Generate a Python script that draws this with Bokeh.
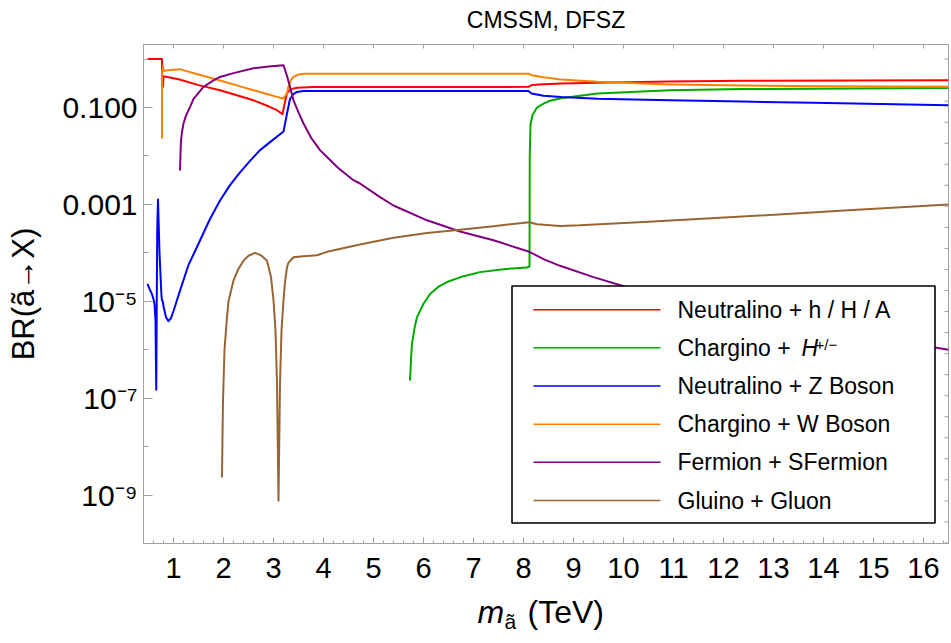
import math
from bokeh.plotting import figure
from bokeh.layouts import column
from bokeh.models import (FixedTicker, Label, BoxAnnotation, CustomJSTickFormatter, Range1d)
from bokeh.embed import file_html
from bokeh.resources import INLINE

# ---------------- data ----------------
red_x = [0.48, 0.77, 0.772, 0.785, 0.79, 0.80, 0.85, 1.12, 1.5, 1.93, 2.3, 2.6, 2.9, 3.07,
         3.18, 3.23, 3.27, 3.35, 3.47, 3.8, 8.1, 8.16, 8.3, 8.75, 9.48, 10.93, 12.38, 16.5]
red_y = [1.0, 1.0, 0.43, 0.43, 0.27, 0.44, 0.43, 0.38, 0.29, 0.227, 0.175, 0.141, 0.106, 0.088,
         0.073, 0.13, 0.2, 0.24, 0.255, 0.265, 0.267, 0.29, 0.30, 0.315, 0.325, 0.345, 0.355, 0.366]

orange_x = [0.77, 0.771, 0.785, 0.79, 0.80, 0.85, 1.12, 1.5, 1.93, 2.3, 2.6, 2.9, 3.07, 3.19,
            3.23, 3.27, 3.3, 3.35, 3.4, 3.5, 3.6, 3.8, 8.1, 8.16, 8.4, 8.75, 9.48, 10.93,
            12.38, 14.0, 16.5]
orange_y = [0.023, 0.57, 0.57, 0.71, 0.57, 0.58, 0.62, 0.48, 0.36, 0.28, 0.228, 0.186, 0.166,
            0.153, 0.17, 0.2, 0.27, 0.37, 0.43, 0.48, 0.50, 0.50, 0.50, 0.466, 0.42, 0.38,
            0.34, 0.30, 0.285, 0.275, 0.267]

blue_x = [0.48, 0.52, 0.57, 0.60, 0.62, 0.64, 0.655, 0.665, 0.675, 0.69, 0.72, 0.76, 0.77,
          0.785, 0.80, 0.85, 0.90, 0.95, 1.0, 1.13, 1.3, 1.53, 1.73, 1.93, 2.13, 2.33, 2.53,
          2.73, 2.95, 3.2, 3.27, 3.33, 3.4, 3.47, 3.6, 8.1, 8.16, 8.4, 8.75, 9.48, 10.93,
          12.38, 13.8, 16.5]
blue_y = [2.3e-5, 1.8e-5, 1.4e-5, 1.1e-5, 8.9e-6, 4e-6, 1.5e-7, 1e-5, 3.2e-4, 1.26e-3, 1e-4,
          1.26e-5, 1.05e-5, 1e-5, 7.9e-6, 4.7e-6, 3.9e-6, 4.5e-6, 6.3e-6, 1.66e-5, 5.6e-5,
          1.8e-4, 5e-4, 1.2e-3, 2.5e-3, 4.6e-3, 7.9e-3, 1.32e-2, 2.0e-2, 3.2e-2, 0.075, 0.15,
          0.19, 0.21, 0.22, 0.22, 0.195, 0.175, 0.165, 0.152, 0.142, 0.133, 0.125, 0.112]

green_x = [5.73, 5.75, 5.77, 5.82, 5.87, 6.0, 6.13, 6.3, 6.47, 6.8, 7.13, 7.6, 8.07, 8.12,
           8.125, 8.14, 8.18, 8.27, 8.4, 8.53, 8.75, 9.48, 10.93, 12.38, 16.5]
green_y = [2.3e-7, 6.3e-7, 1.32e-6, 2.8e-6, 4.7e-6, 8.9e-6, 1.41e-5, 2.0e-5, 2.5e-5, 3.3e-5,
           4.0e-5, 4.6e-5, 5.0e-5, 5.2e-5, 1e-2, 4.5e-2, 7.0e-2, 0.1, 0.12, 0.138, 0.155,
           0.195, 0.228, 0.24, 0.254]

purple_x = [1.13, 1.14, 1.15, 1.17, 1.2, 1.25, 1.33, 1.4, 1.6, 1.8, 1.93, 2.2, 2.6, 2.9, 3.2,
            3.27, 3.33, 3.4, 3.5, 3.6, 3.75, 3.93, 4.07, 4.3, 4.6, 4.73, 5.13, 5.4, 6.07, 6.73,
            7.4, 8.13, 8.4, 8.73, 9.4, 10.07, 11.0, 12.0, 13.0, 14.0, 15.0, 16.2, 16.5]
purple_y = [5.0e-3, 1.12e-2, 2.1e-2, 3.16e-2, 4.7e-2, 6.8e-2, 0.102, 0.151, 0.267, 0.363, 0.427,
            0.513, 0.646, 0.70, 0.748, 0.447, 0.267, 0.141, 0.0794, 0.0468, 0.024, 0.0132,
            9.5e-3, 5.6e-3, 3.16e-3, 2.7e-3, 1.41e-3, 9.5e-4, 4.7e-4, 2.75e-4, 1.82e-4, 1.04e-4,
            7.4e-5, 5.4e-5, 3.16e-5, 1.95e-5, 1.07e-5, 6.0e-6, 3.7e-6, 2.4e-6, 1.62e-6, 1.12e-6,
            1.0e-6]

brown_x = [1.97, 1.98, 1.99, 2.02, 2.07, 2.1, 2.2, 2.3, 2.4, 2.5, 2.63, 2.75, 2.87, 2.95, 3.0,
           3.04, 3.07, 3.1, 3.13, 3.16, 3.2, 3.23, 3.27, 3.3, 3.4, 3.6, 3.87, 4.07, 4.73, 5.4,
           6.07, 6.73, 7.4, 8.12, 8.27, 8.73, 9.13, 10.5, 12.73, 14.5, 16.5]
brown_y = [2.3e-9, 1.6e-8, 8.9e-8, 1e-6, 4.7e-6, 1e-5, 2.7e-5, 4.7e-5, 6.9e-5, 8.7e-5, 1.0e-4,
           8.9e-5, 6.9e-5, 3.16e-5, 1.05e-5, 2.5e-6, 2.0e-7, 7.6e-10, 2.0e-7, 2.5e-6, 1.05e-5,
           2.5e-5, 5.0e-5, 6.3e-5, 8.1e-5, 8.5e-5, 8.9e-5, 1.05e-4, 1.48e-4, 2.04e-4, 2.57e-4,
           3.0e-4, 3.55e-4, 4.3e-4, 3.9e-4, 3.6e-4, 3.7e-4, 4.4e-4, 5.9e-4, 7.6e-4, 1.0e-3]

series_names = ["Neutralino + h / H / A", "Chargino + H+/\u2212", "Neutralino + Z Boson",
                "Chargino + W Boson", "Fermion + SFermion", "Gluino + Gluon"]
series_colors = ["#FF0000", "#00AA00", "#0000FF", "#FF8000", "#800080", "#996633"]

x_ticks = list(range(1, 17))
y_tick_vals = [1e-9, 1e-7, 1e-5, 1e-3, 1e-1]
y_tick_labels = ["10\u207b\u2079", "10\u207b\u2077", "10\u207b\u2075", "0.001", "0.100"]

title_text = "CMSSM, DFSZ"
y_label = "BR(\u00e3\u2192X)"

# ---------------- layout constants ----------------
X0, X1 = 0.4, 16.5
Y0, Y1 = 1e-10, 2.0
FONT = "Liberation Sans"
GRAY = "#a0a0a0"

TOP_H = 36          # strip holding the title
BOT_H = 51          # strip holding the x-axis title
MAIN_H = 643 - TOP_H - BOT_H
FL, FR, FT, FB = 143, 948, 44, 543   # frame edges in page px


def sx(px):
    return X0 + (px - FL) * (X1 - X0) / (FR - FL)


def sy(py):
    l0, l1 = math.log10(Y0), math.log10(Y1)
    return 10 ** (l1 - (py - FT) * (l1 - l0) / (FB - FT))


def strip(h):
    # the column aligns this strip's frame with the main frame horizontally
    f = figure(width=951, height=h, x_range=Range1d(X0, X1), y_range=Range1d(h, 0),
               output_backend="svg", toolbar_location=None, min_border=0, title=None,
               x_axis_location=None, y_axis_location=None)
    f.outline_line_color = None
    f.xgrid.visible = False
    f.ygrid.visible = False
    return f


# ---------------- title strip ----------------
t = strip(TOP_H)
t.add_layout(Label(x=(X0 + X1) / 2, y=19, text=title_text, text_font=FONT,
                   text_font_size="23px", text_align="center", text_baseline="middle",
                   text_color="black"))

# ---------------- main plot ----------------
p = figure(width=951, height=MAIN_H, x_range=Range1d(X0, X1), y_range=Range1d(Y0, Y1),
           y_axis_type="log", output_backend="svg", toolbar_location=None, title=None,
           min_border_left=FL, min_border_right=951 - FR, min_border_top=FT - TOP_H,
           min_border_bottom=TOP_H + MAIN_H - FB)
p.xgrid.visible = False
p.ygrid.visible = False
p.outline_line_color = GRAY
p.outline_line_width = 1
p.background_fill_color = "white"
p.border_fill_color = "white"

# bottom axis
xa = p.xaxis[0]
xa.ticker = FixedTicker(ticks=x_ticks, minor_ticks=[round(0.4 + 0.2 * i, 2) for i in range(81)])
xa.axis_line_color = None
xa.major_tick_line_color = GRAY
xa.minor_tick_line_color = GRAY
xa.major_tick_in = 6
xa.major_tick_out = 0
xa.minor_tick_in = 3
xa.minor_tick_out = 0
xa.major_label_text_font = FONT
xa.major_label_text_font_size = "29px"
xa.major_label_text_color = "black"
xa.major_label_standoff = 14

# left axis
ya = p.yaxis[0]
ya.ticker = FixedTicker(ticks=y_tick_vals, minor_ticks=[1.0, 1e-2, 1e-4, 1e-6, 1e-8])
ya.formatter = CustomJSTickFormatter(args=dict(vals=y_tick_vals, labs=y_tick_labels), code="""
for (let i = 0; i < vals.length; i++) {
  if (Math.abs(Math.log10(tick) - Math.log10(vals[i])) < 1e-6) return labs[i];
}
return "";
""")
ya.axis_line_color = None
ya.major_tick_line_color = GRAY
ya.minor_tick_line_color = GRAY
ya.major_tick_in = 9
ya.major_tick_out = 0
ya.minor_tick_in = 5
ya.minor_tick_out = 0
ya.major_label_text_font = FONT
ya.major_label_text_font_size = "30px"
ya.major_label_text_color = "black"
ya.major_label_standoff = 6
ya.axis_label = y_label
ya.axis_label_text_font = FONT
ya.axis_label_text_font_size = "31px"
ya.axis_label_text_font_style = "normal"
ya.axis_label_text_color = "black"
ya.axis_label_standoff = 18

# frame ticks on the top (integers) and right (e^-k) edges, pointing inwards
tick_len_px = 4
top_dy = 10 ** (tick_len_px * (math.log10(Y1) - math.log10(Y0)) / (FB - FT))
p.segment(x0=x_ticks, y0=[Y1] * len(x_ticks), x1=x_ticks, y1=[Y1 / top_dy] * len(x_ticks),
          line_color=GRAY, line_width=1)
e_ticks = [math.exp(-k) for k in range(0, 24)]
right_dx = tick_len_px * (X1 - X0) / (FR - FL)
p.segment(x0=[X1] * len(e_ticks), y0=e_ticks, x1=[X1 - right_dx] * len(e_ticks), y1=e_ticks,
          line_color=GRAY, line_width=1)

# curves
curve_data = [(red_x, red_y), (green_x, green_y), (blue_x, blue_y),
              (orange_x, orange_y), (purple_x, purple_y), (brown_x, brown_y)]
for (xs, ys), c in zip(curve_data, series_colors):
    p.line(xs, ys, line_color=c, line_width=2, line_join="round")

# legend (manual)
p.add_layout(BoxAnnotation(left=sx(511.5), right=sx(934.5), top=sy(285.5), bottom=sy(522.5),
                           fill_color="white", fill_alpha=1.0, line_color="black",
                           line_width=1.6, line_alpha=1.0))
row_y = [309.3, 347.3, 385.5, 423.7, 461.8, 500.0]
for i, (name, c) in enumerate(zip(series_names, series_colors)):
    yy = sy(row_y[i])
    seg = p.segment(x0=[sx(533)], y0=[yy], x1=[sx(660)], y1=[yy], line_color=c,
                    line_width=1.4)
    seg.level = "overlay"
    txt = name if i != 1 else "Chargino + "
    p.add_layout(Label(x=sx(677), y=yy, text=txt, text_font=FONT, text_font_size="23px",
                       text_align="left", text_baseline="middle", text_color="black",
                       level="overlay"))
    if i == 1:
        p.add_layout(Label(x=sx(801), y=yy, text="H", text_font=FONT, text_font_size="23px",
                           text_font_style="italic", text_align="left",
                           text_baseline="middle", text_color="black", level="overlay"))
        p.add_layout(Label(x=sx(815), y=sy(344), text="+/\u2212", text_font=FONT,
                           text_font_size="15px", text_align="left", text_baseline="middle",
                           text_color="black", level="overlay"))

# ---------------- x-axis title strip: m_ã (TeV) ----------------
q = strip(BOT_H)
q_top = TOP_H + MAIN_H
q.add_layout(Label(x=sx(477), y=611 - q_top, text="m", text_font=FONT, text_font_size="32px",
                   text_font_style="italic", text_align="left", text_baseline="middle",
                   text_color="black"))
q.add_layout(Label(x=sx(504), y=621 - q_top, text="\u00e3", text_font=FONT,
                   text_font_size="21px", text_align="left", text_baseline="middle",
                   text_color="black"))
q.add_layout(Label(x=sx(527), y=611 - q_top, text="(TeV)", text_font=FONT,
                   text_font_size="32px", text_align="left", text_baseline="middle",
                   text_color="black"))

layout = column(t, p, q, spacing=0)
open("out.html", "w").write(file_html(layout, INLINE))
